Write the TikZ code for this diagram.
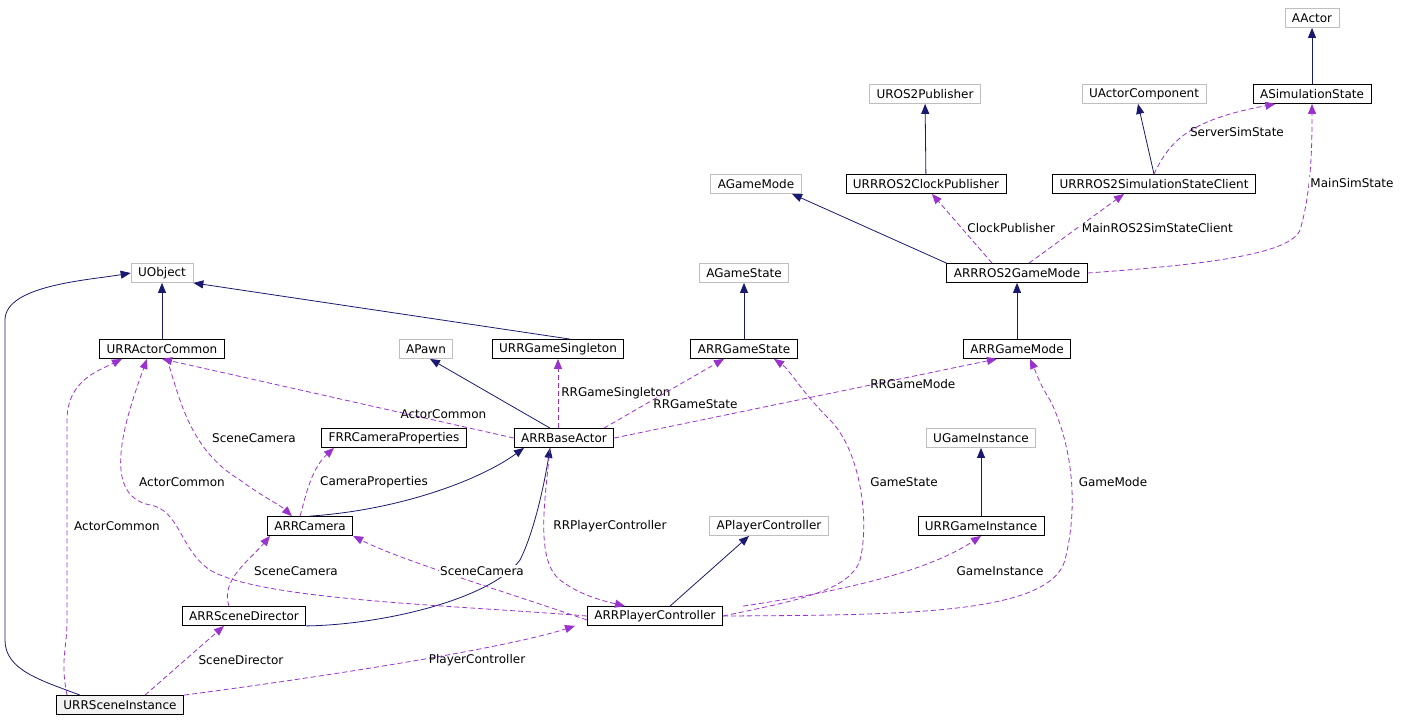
\documentclass[tikz,border=0pt]{standalone}
\usepackage{fontspec}
\setmainfont{DejaVu Sans}
\usetikzlibrary{arrows.meta}
\definecolor{inh}{HTML}{191970}
\definecolor{use}{HTML}{9A32CD}
\definecolor{gb}{HTML}{BFBFBF}
\begin{document}
\begin{tikzpicture}[x=1pt,y=-1pt,
  cls/.style={draw=black,fill=white,minimum height=19pt,inner xsep=7pt,inner ysep=0pt,font=\fontsize{12}{14}\selectfont,line width=0.8pt},
  ext/.style={cls,draw=gb},
  me/.style={cls,fill=gb!110!black!30,draw=black},
  inhe/.style={draw=inh,line width=0.8pt,-{Triangle[length=10pt,width=8pt]}},
  usee/.style={draw=use,line width=0.8pt,dashed,dash pattern=on 5pt off 3pt,-{Triangle[length=10pt,width=8pt]}},
  lab/.style={font=\fontsize{12}{14}\selectfont,fill=white,inner sep=1pt}]
\useasboundingbox (0,0) rectangle (1404,725);
\node[ext] (aactor) at (1312,18) {AActor};
\node[cls] (asim) at (1312,94) {ASimulationState};
\node[ext] (upub) at (925,94) {UROS2Publisher};
\node[ext] (uac) at (1144,94) {UActorComponent};
\node[ext] (agm) at (756,184) {AGameMode};
\node[cls] (clock) at (926,184) {URRROS2ClockPublisher};
\node[cls] (simc) at (1154,184) {URRROS2SimulationStateClient};
\node[ext] (ags) at (744,273) {AGameState};
\node[cls] (ros2gm) at (1017,273) {ARRROS2GameMode};
\node[ext] (uobj) at (162,273) {UObject};
\node[cls] (ac) at (162,349) {URRActorCommon};
\node[ext] (apawn) at (426,349) {APawn};
\node[cls] (single) at (558,349) {URRGameSingleton};
\node[cls] (gs) at (744,349) {ARRGameState};
\node[cls] (gm) at (1017,349) {ARRGameMode};
\node[cls] (camprop) at (394,438) {FRRCameraProperties};
\node[cls] (base) at (564,438) {ARRBaseActor};
\node[ext] (ugi) at (981,438) {UGameInstance};
\node[cls] (cam) at (310,526) {ARRCamera};
\node[ext] (apc) at (769,526) {APlayerController};
\node[cls] (gi) at (981,526) {URRGameInstance};
\node[cls] (sd) at (244,616) {ARRSceneDirector};
\node[cls] (pc) at (655,616) {ARRPlayerController};
\node[me] (si) at (120,705) {URRSceneInstance};
% inheritance
\draw[inhe] (asim) -- (aactor);
\draw[inhe] (clock) -- (upub);
\draw[inhe] (simc.north) -- ([xshift=-6pt]uac.south);
\draw[inhe] (ros2gm.north west) -- ([xshift=36pt]agm.south);
\draw[inhe] (gs) -- (ags);
\draw[inhe] (gm) -- (ros2gm);
\draw[inhe] (ac) -- (uobj);
\draw[inhe] ([xshift=12pt]single.north) -- (uobj.south east);
\draw[inhe] ([xshift=-14pt]base.north) -- ([xshift=4pt]apawn.south);
\draw[inhe] (cam.north) .. controls (400,510) and (480,480) .. ([xshift=-40pt]base.south);
\draw[inhe] (sd.south east) .. controls (380,625) and (490,600) .. (520,560) .. controls (535,530) and (545,480) .. ([xshift=-14pt]base.south);
\draw[inhe] (gi) -- (ugi);
\draw[inhe] ([xshift=15pt]pc.north) -- ([xshift=-20pt]apc.south);
\draw[inhe] ([xshift=-40pt]si.north) .. controls (40,680) and (5,670) .. (5,640) -- (5,320) .. controls (5,285) and (90,280) .. (uobj.west);
% usage
\draw[usee] (simc.north) .. controls (1170,140) and (1190,120) .. ([xshift=-96pt]asim.south east) node[lab,pos=0.5,anchor=west,fill=none]{ServerSimState};
\draw[usee] ([xshift=-25pt]ros2gm.north) -- ([xshift=6pt]clock.south) node[lab,pos=0.5,right=4pt,fill=white]{ClockPublisher};
\draw[usee] ([xshift=12pt]ros2gm.north) -- ([xshift=-30pt]simc.south) node[lab,pos=0.5,right=4pt]{MainROS2SimStateClient};
\draw[usee] (ros2gm.east) .. controls (1200,265) and (1290,255) .. (1300,230) .. controls (1312,190) and (1312,140) .. (asim.south);
\node[lab] at (1352,183) {MainSimState};
\draw[usee] (base.west) -- (ac.south) node[lab,pos=0.2,above=2pt,fill=none]{ActorCommon};
\draw[usee] ([xshift=-6pt]base.north) -- (single.south) node[lab,pos=0.5,right=2pt,fill=none]{RRGameSingleton};
\draw[usee] ([xshift=40pt]base.north) -- ([xshift=-20pt]gs.south) node[lab,pos=0.35,right=6pt,fill=none]{RRGameState};
\draw[usee] (base.east) -- ([xshift=-20pt]gm.south) node[lab,pos=0.78,below=2pt,fill=none]{RRGameMode};
\draw[usee] ([xshift=5pt]ac.south) .. controls (180,400) and (190,450) .. (240,480) .. controls (260,495) and (280,505) .. ([xshift=-18pt]cam.north);
\node[lab] at (254,438) {SceneCamera};
\draw[usee] ([xshift=-10pt]cam.north) .. controls (305,500) and (310,470) .. ([xshift=-60pt]camprop.south);
\node[lab] at (374,482) {CameraProperties};
\draw[usee] (pc.west) .. controls (450,605) and (260,600) .. (210,570) .. controls (180,550) and (180,510) .. (150,505) .. controls (100,495) and (125,420) .. ([xshift=-15pt]ac.south);
\node[lab] at (182,482) {ActorCommon};
\draw[usee] ([xshift=-14pt]base.south) .. controls (545,500) and (535,560) .. (560,580) .. controls (580,595) and (600,600) .. ([xshift=-30pt]pc.north);
\node[lab] at (610,526) {RRPlayerController};
\draw[usee] (pc.east) .. controls (800,600) and (850,590) .. (860,560) .. controls (870,520) and (860,450) .. (830,420) .. controls (800,390) and (790,370) .. ([xshift=30pt]gs.south);
\node[lab] at (904,482) {GameState};
\draw[usee] (pc.east) .. controls (900,615) and (1050,615) .. (1065,560) .. controls (1080,500) and (1070,440) .. (1050,400) .. controls (1040,385) and (1035,370) .. ([xshift=13pt]gm.south);
\node[lab] at (1113,482) {GameMode};
\draw[usee] ([yshift=-4pt]pc.west) .. controls (500,590) and (400,560) .. (cam.south east);
\node[lab] at (482,571) {SceneCamera};
\draw[usee] ([xshift=20pt]pc.north east) .. controls (850,590) and (930,570) .. (gi.south);
\node[lab] at (1000,571) {GameInstance};
\draw[usee] ([xshift=-15pt]sd.north) .. controls (220,580) and (250,560) .. ([xshift=-40pt]cam.south);
\node[lab,fill=none] at (296,571) {SceneCamera};
\draw[usee] ([xshift=-53pt]si.north) .. controls (60,660) and (67,650) .. (67,620) -- (67,420) .. controls (67,380) and (100,370) .. ([xshift=-40pt]ac.south);
\node[lab,fill=none] at (117,526) {ActorCommon};
\draw[usee] ([xshift=25pt]si.north) -- ([xshift=-20pt]sd.south);
\node[lab,fill=none] at (241,660) {SceneDirector};
\draw[usee] (si.north east) .. controls (300,680) and (500,650) .. ([xshift=-80pt]pc.south);
\node[lab,fill=none] at (477,660) {PlayerController};
\end{tikzpicture}
\end{document}
